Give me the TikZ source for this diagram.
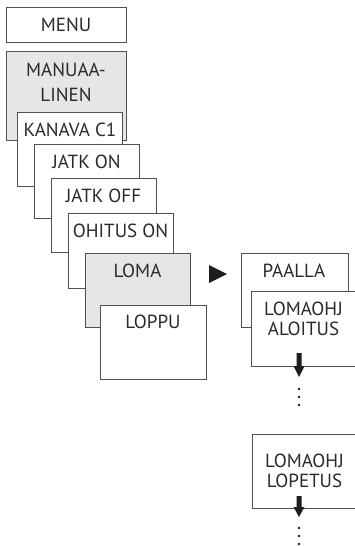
\documentclass[tikz,border=0pt]{standalone}
\usepackage{fontspec}
\setmainfont{PT Sans}
\definecolor{linec}{HTML}{505050}
\definecolor{grayf}{HTML}{E5E6E7}
\definecolor{textc}{HTML}{2A2A2A}
\definecolor{arrowc}{HTML}{1E1E1E}
\tikzset{
  box/.style={draw=linec, line width=1pt, fill=white, anchor=north west,
    minimum width=105pt, minimum height=74pt, inner sep=0pt, outer sep=0pt},
  graybox/.style={box, fill=grayf},
  txt/.style={anchor=base, inner sep=0pt, text=textc, font=\fontsize{19}{21}\selectfont},
  dotp/.style={fill=arrowc},
}
\begin{document}
\begin{tikzpicture}[x=1pt, y=-1pt]
\useasboundingbox (0,0) rectangle (355,546);
% left column
\node[box, minimum width=120pt, minimum height=35pt] (menu) at (6,7) {};
\node[txt] (tmenu) at (66,31) {MENU};
\node[graybox, minimum width=120pt, minimum height=89pt] (manual) at (6,51) {};
\node[txt] (tman1) at (66,76) {MANUAA-};
\node[txt] (tman2) at (66,101) {LINEN};
\node[box] (kanava) at (17,112) {};
\node[txt] (tkan) at (70,136) {KANAVA C1};
\node[box] (jatkon) at (34,144) {};
\node[txt] (tjon) at (86.5,168) {JATK ON};
\node[box] (jatkoff) at (51,178) {};
\node[txt] (tjoff) at (103.5,202) {JATK OFF};
\node[box, minimum height=75pt] (ohitus) at (68,213) {};
\node[txt] (toh) at (120.5,237) {OHITUS ON};
\node[graybox] (loma) at (85,253) {};
\node[txt] (tloma) at (137.5,277) {LOMA};
\node[box, minimum width=106pt] (loppu) at (100,305) {};
\node[txt] (tloppu) at (153,328) {LOPPU};
% pointer triangle
\fill[arrowc] (209,265) -- (227,274) -- (209,283) -- cycle;
% right column
\node[box, minimum width=107pt] (paalla) at (241,253) {};
\node[txt] (tpaalla) at (294,277) {PAALLA};
\node[box, minimum height=75pt] (aloitus) at (251,291) {};
\node[txt] (tal1) at (303.5,315) {LOMAOHJ};
\node[txt] (tal2) at (303.5,335) {ALOITUS};
\fill[arrowc] (296.5,353) -- (301.5,353) -- (301.5,366) -- (304.5,366) -- (299,377)
  -- (293.5,366) -- (296.5,366) -- cycle;
\fill[dotp] (299,389) circle (1.3);
\fill[dotp] (299,397) circle (1.3);
\fill[dotp] (299,405) circle (1.3);
\node[box] (lopetus) at (252,434) {};
\node[txt] (tlo1) at (304.5,467) {LOMAOHJ};
\node[txt] (tlo2) at (304.5,487) {LOPETUS};
\fill[arrowc] (296.5,496) -- (301.5,496) -- (301.5,507) -- (304.5,507) -- (299,517)
  -- (293.5,507) -- (296.5,507) -- cycle;
\fill[dotp] (299,528) circle (1.3);
\fill[dotp] (299,536) circle (1.3);
\fill[dotp] (299,544) circle (1.3);
\end{tikzpicture}
\end{document}
